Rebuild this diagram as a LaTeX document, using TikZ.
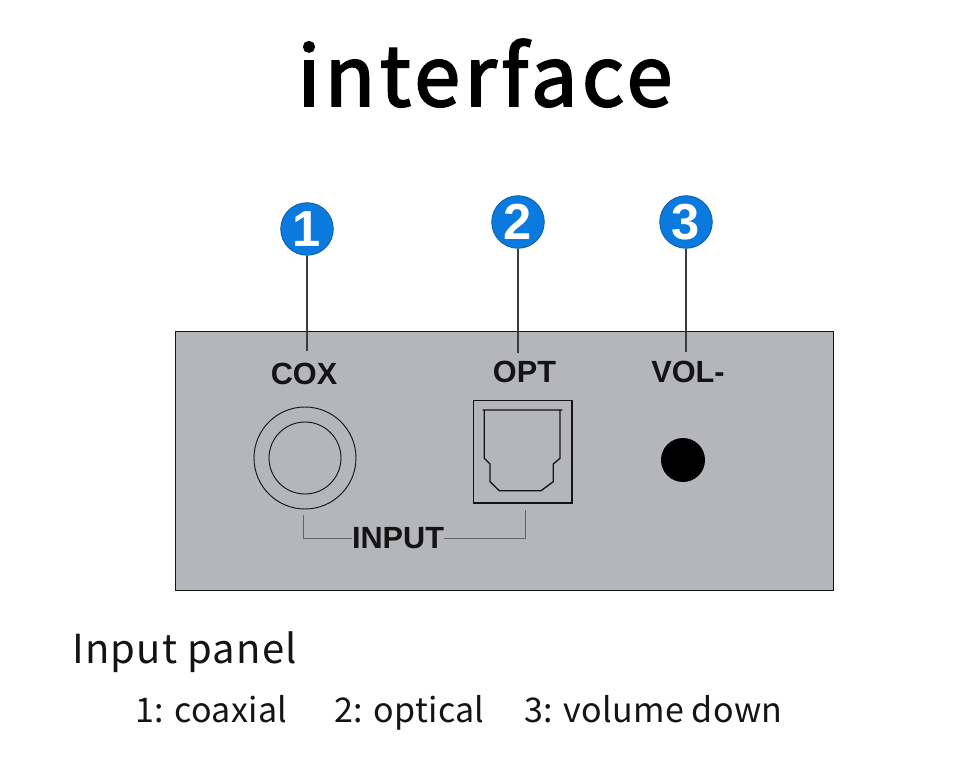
\documentclass[tikz,border=0pt]{standalone}
\usepackage{fontspec}
\usepackage{xcolor}
\setmainfont[LetterSpace=1]{Noto Sans CJK SC}
\newfontfamily\titlefont[FakeBold=2.4,LetterSpace=5.5]{Noto Sans CJK SC}
\newfontfamily\headfont[LetterSpace=3]{Noto Sans CJK SC}
\newfontfamily\labelfont{Liberation Sans}
\usetikzlibrary{positioning}
\definecolor{panelgrey}{RGB}{181,182,185}
\definecolor{badgeblue}{RGB}{10,122,222}
\definecolor{leadgrey}{RGB}{60,60,62}
\definecolor{inkblack}{RGB}{20,20,20}

\begin{document}
\begin{tikzpicture}[
  x=0.75pt, y=-0.75pt,
  badge/.style={circle, draw=badgeblue!70!black, fill=badgeblue, line width=0.5pt, minimum size=39.5pt, inner sep=0pt, text=white, font=\labelfont\fontsize{38}{38}\selectfont\bfseries},
  lead/.style={draw=leadgrey, line width=0.9pt},
  bracket/.style={draw=leadgrey!80, line width=0.6pt},
  portlabel/.style={inner sep=0pt, text=inkblack, font=\labelfont\fontsize{23}{24}\selectfont\bfseries},
  caption/.style={anchor=base west, inner sep=0pt, text=inkblack, font=\fontsize{25.5}{26}\selectfont},
  port/.style={draw=inkblack, line width=0.7pt},
]
\useasboundingbox (0,0) rectangle (960,777);
\node[anchor=base, inner sep=0pt, text=black, font=\titlefont\fontsize{62}{62}\selectfont] (title) at (485,106) {interface};
% panel and its ports
\node[draw=inkblack, fill=panelgrey, line width=0.6pt, minimum width=493pt, minimum height=194.5pt, inner sep=0pt] (panel) at (504.5,460.7) {};
\node[port, circle, minimum size=76.5pt, inner sep=0pt] (coxouter) at (305,458) {};
\node[port, circle, minimum size=54pt, inner sep=0pt] (coxinner) at (305,458) {};
\node[port, line width=1pt, minimum width=74pt, minimum height=77pt, inner sep=0pt] (optbox) at (522.5,451.5) {};
\draw[port, line width=1pt] (482.7,410) -- (562.3,410)
  (484.3,410) -- (484.3,458.3) -- (490,464) -- (490,481.7) -- (499.3,490.7) -- (541,490.7)
  -- (553.3,481.7) -- (553.3,464) -- (560,458.3) -- (560,410);
\node[circle, fill=black, minimum size=33pt, inner sep=0pt] (volbtn) at (683,460) {};
% labels
\node[portlabel] (cox) at (304,374) {COX};
\node[portlabel] (opt) at (524.5,372) {OPT};
\node[portlabel] (vol) at (688,372) {VOL-};
\node[portlabel] (input) at (398,538) {INPUT};
% numbered badges
\node[badge] (one) at (307,229) {1};
\node[badge] (two) at (518,222) {2};
\node[badge] (three) at (686,222) {3};
\coordinate (onefoot) at (307,351);
\coordinate (twofoot) at (518,353);
\coordinate (threefoot) at (686,352);
\draw[lead] (one) -- (onefoot);
\draw[lead] (two) -- (twofoot);
\draw[lead] (three) -- (threefoot);
% input bracket
\coordinate (coxfoot) at (303,515);
\coordinate (optfoot) at (525,510);
\draw[bracket] (coxfoot) |- (input.west);
\draw[bracket] (optfoot) |- (input.east);
% captions
\node[caption, font=\headfont\fontsize{30}{30}\selectfont] (head) at (72,663) {Input panel};
\node[caption] (coax) at (135,722) {1: coaxial};
\node[caption] (optical) at (334,722) {2: optical};
\node[caption] (down) at (524,722) {3: volume down};
\end{tikzpicture}
\end{document}
